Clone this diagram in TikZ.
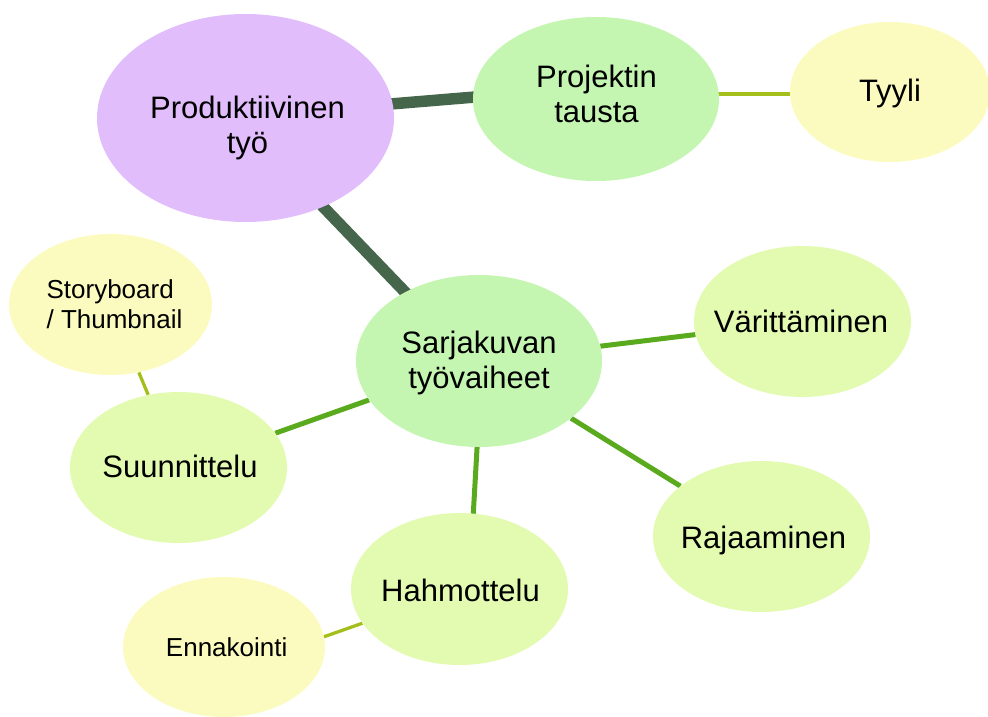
\documentclass[tikz,border=0pt]{standalone}
\usepackage{fontspec}
\setmainfont{Liberation Sans}
\usetikzlibrary{shapes.geometric,calc}
\pgfdeclarelayer{bg}
\pgfsetlayers{bg,main}
\definecolor{cPurple}{HTML}{E1BDFC}
\definecolor{cGreen}{HTML}{C4F6B2}
\definecolor{cLime}{HTML}{E3FBB1}
\definecolor{cYellow}{HTML}{FCFBBF}
\definecolor{cEdgeDark}{HTML}{46664C}
\definecolor{cEdgeMid}{HTML}{5AAA1E}
\definecolor{cEdgeThin}{HTML}{A4BF1C}
\tikzset{
  bub/.style={ellipse, inner sep=0pt, draw=none},
  bigtxt/.style={font=\fontsize{31}{35}\selectfont, align=center, inner sep=0pt, text=black},
  smalltxt/.style={font=\fontsize{26}{30}\selectfont, align=center, inner sep=0pt, text=black},
  edgeA/.style={line width=11.5pt, draw=cEdgeDark},
  edgeB/.style={line width=5pt, draw=cEdgeMid},
  edgeC/.style={line width=3.3pt, draw=cEdgeThin},
}
\begin{document}
\begin{tikzpicture}[x=1pt, y=-1pt]
\useasboundingbox (0,0) rectangle (988,717);
% bubbles
\node[bub, fill=cPurple, minimum width=297pt, minimum height=208pt] (prod) at (245.5,118) {};
\node[bub, fill=cGreen,  minimum width=246pt, minimum height=164pt] (proj) at (596,99) {};
\node[bub, fill=cYellow, minimum width=200pt, minimum height=140pt] (tyyli) at (890,92) {};
\node[bub, fill=cYellow, minimum width=203pt, minimum height=141pt] (story) at (110.5,304.5) {};
\node[bub, fill=cGreen,  minimum width=246pt, minimum height=172pt] (sarj) at (479,361) {};
\node[bub, fill=cLime,   minimum width=217pt, minimum height=151pt] (vari) at (802.5,321.5) {};
\node[bub, fill=cLime,   minimum width=217pt, minimum height=151pt] (suun) at (178.5,467.5) {};
\node[bub, fill=cLime,   minimum width=217pt, minimum height=151pt] (raja) at (761.5,536.5) {};
\node[bub, fill=cLime,   minimum width=217pt, minimum height=152pt] (hahm) at (459.5,589) {};
\node[bub, fill=cYellow, minimum width=202pt, minimum height=140pt] (enn) at (224,647) {};
% texts
\node[bigtxt] (prodT) at ($(prod)+(2,10.5)$) {\strut Produktiivinen\\työ\strut};
\node[bigtxt] (projT) at ($(proj)+(0.5,-1)$) {\strut Projektin\\tausta\strut};
\node[bigtxt] (tyyliT) at ($(tyyli)+(0,2)$) {\strut Tyyli\strut};
\node[smalltxt, align=left] (storyT) at ($(story)+(4,2.5)$) {\strut Storyboard\\/ Thumbnail\strut};
\node[bigtxt] (sarjT) at ($(sarj)+(0,3)$) {\strut Sarjakuvan\\työvaiheet\strut};
\node[bigtxt] (variT) at ($(vari)+(-1.5,3.5)$) {\strut Värittäminen\strut};
\node[bigtxt] (suunT) at ($(suun)+(1.5,2.5)$) {\strut Suunnittelu\strut};
\node[bigtxt] (rajaT) at ($(raja)+(2,5)$) {\strut Rajaaminen\strut};
\node[bigtxt] (hahmT) at ($(hahm)+(1,5)$) {\strut Hahmottelu\strut};
\node[smalltxt] (ennT) at ($(enn)+(2.7,3.7)$) {\strut Ennakointi\strut};
% connectors
\begin{pgfonlayer}{bg}
\draw[edgeA] ($(prod)+(0,-2)$) -- ($(proj)+(0,-12)$);
\draw[edgeA] ($(prod)+(0,8)$) -- ($(sarj)+(0,8)$);
\draw[edgeC] ($(proj)+(0,-5)$) -- ($(tyyli)+(0,2)$);
\draw[edgeB] (sarj) -- (vari);
\draw[edgeB] (sarj) -- (raja);
\draw[edgeB] ($(sarj)+(3,0)$) -- ($(hahm)+(9.5,0)$);
\draw[edgeB] (sarj) -- (suun);
\draw[edgeC] (suun) -- (story);
\draw[edgeC] ($(enn)+(0,25)$) -- (hahm);
\end{pgfonlayer}
\end{tikzpicture}
\end{document}
